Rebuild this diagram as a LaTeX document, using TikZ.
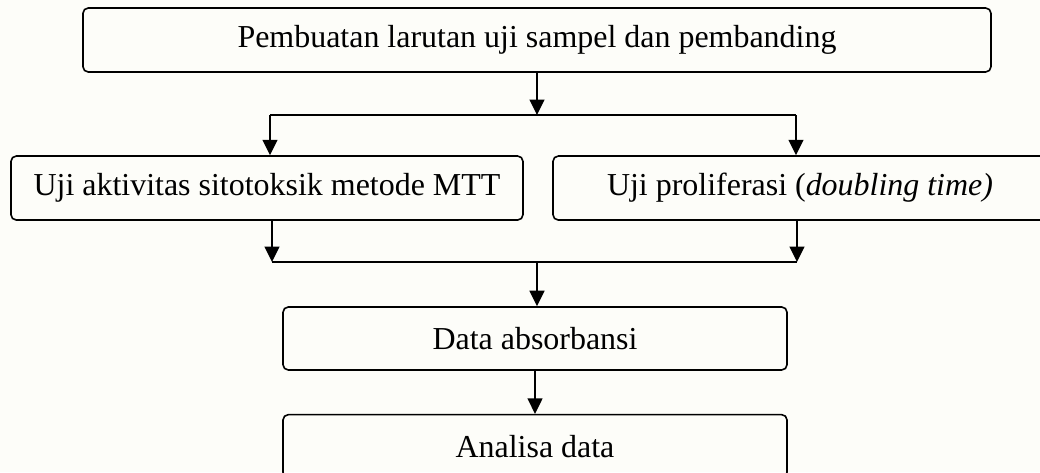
\documentclass[tikz,border=0pt]{standalone}
\usepackage{fontspec}
\setmainfont{Liberation Serif}
\usepackage{tikz}
\usetikzlibrary{arrows.meta}
\usetikzlibrary{shapes, positioning, calc}
\definecolor{paper}{RGB}{253,253,249}

\begin{document}
\begin{tikzpicture}[->,>={Triangle[width=5.6pt,length=5.8pt]}, align=center,
	line width=0.6pt,
  rd node/.style={rectangle, rounded corners=2pt, draw, minimum height=0.845cm,
    inner sep=0pt, font=\fontsize{12}{14}\selectfont}]
  % page and clipping
  \path[use as bounding box, fill=paper] (0,0) rectangle (13.728,-6.2304);
  \clip (0,0) rectangle (13.728,-6.2304);

  \node[rd node, minimum width=11.986cm] (1) at (7.088,-0.528) {Pembuatan larutan uji sampel dan pembanding};
  \node[rd node, minimum width=6.758cm] (2) at (3.524,-2.482) {Uji aktivitas sitotoksik metode MTT};
  \node[rd node, minimum width=6.521cm] (3) at (10.56,-2.482) {Uji proliferasi (\textit{doubling time)}};
  \node[rd node, minimum width=6.653cm, minimum height=0.832cm] (4) at (7.062,-4.468) {Data absorbansi};
  \node[rd node, minimum width=6.653cm, minimum height=0.832cm, below=0.568cm of 4] (5) {Analisa data};

  % split and merge points
  \coordinate (s) at (7.088,-1.518);
  \coordinate (sl) at (3.564,-1.518);
  \coordinate (sr) at (10.507,-1.518);
  \coordinate (m) at (7.088,-3.458);
  \coordinate (ml) at (3.590,-3.458);
  \coordinate (mr) at (10.520,-3.458);

  \draw (1) -- (s);
  \draw[-] (sl) -- (sr);
  \draw (sl) -- (sl |- 2.north);
  \draw (sr) -- (sr |- 3.north);
  \draw (ml |- 2.south) -- (ml);
  \draw (mr |- 3.south) -- (mr);
  \draw[-] (ml) -- (mr);
  \draw (m) -- (m |- 4.north);
  \draw (4) -- (5);
\end{tikzpicture}
\end{document}
